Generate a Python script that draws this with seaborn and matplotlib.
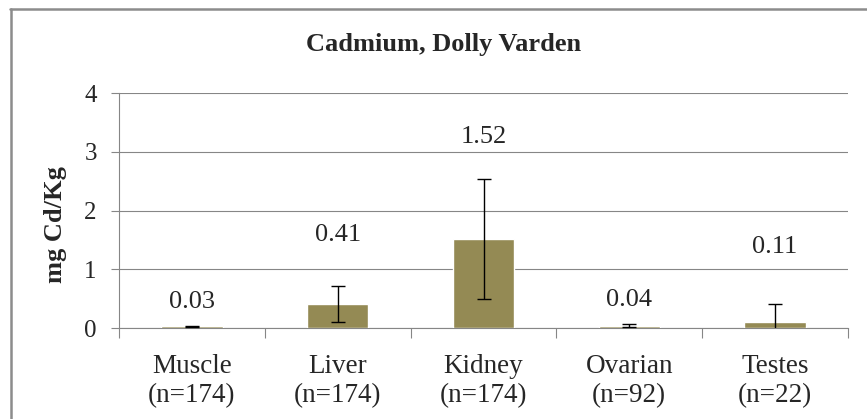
import matplotlib
matplotlib.use("Agg")
import matplotlib.pyplot as plt
import seaborn as sns
import pandas as pd
from matplotlib.lines import Line2D

# ---- data ----
tissues = ["Muscle\n(n=174)", "Liver\n(n=174)", "Kidney\n(n=174)", "Ovarian\n(n=92)", "Testes\n(n=22)"]
means = [0.03, 0.41, 1.52, 0.04, 0.11]
errors = [0.01, 0.30, 1.02, 0.02, 0.30]
value_labels = ["0.03", "0.41", "1.52", "0.04", "0.11"]
label_heights = [0.44, 1.58, 3.25, 0.47, 1.38]
yticks = [0, 1, 2, 3, 4]

sns.set_theme(style="white")
plt.rcParams['font.family'] = ['Liberation Serif', 'DejaVu Serif']

df = pd.DataFrame({"tissue": tissues, "mean": means})

fig = plt.figure(figsize=(8.67, 4.19), dpi=100)
ax = fig.add_axes([119/867, 1-328/419, (848-119)/867, (328-93)/419])

gray = "#868686"
sns.barplot(data=df, x="tissue", y="mean", color="#948A54", saturation=1,
            width=0.42, errorbar=None, ax=ax, zorder=3)
ax.errorbar(range(len(means)), means, yerr=errors, fmt="none", ecolor="black",
            elinewidth=1.0, capsize=4.7, capthick=1.0, zorder=4)

for i, (lab, h) in enumerate(zip(value_labels, label_heights)):
    ax.text(i, h, lab, ha="center", va="center", fontsize=19)

ax.set_ylim(0, 4)
ax.set_xlim(-0.5, len(tissues) - 0.5)
ax.set_yticks(yticks)
ax.set_yticklabels([str(t) for t in yticks], fontsize=18)
ax.yaxis.grid(True, color=gray, linewidth=0.8, zorder=0)
ax.set_axisbelow(True)

ax.set_xlabel("")
ax.set_ylabel("mg Cd/Kg", fontsize=19, fontweight="bold")
ax.yaxis.set_label_coords(-0.072, 0.44)

for s in ["top", "right"]:
    ax.spines[s].set_visible(False)
for s in ["left", "bottom"]:
    ax.spines[s].set_color(gray)
    ax.spines[s].set_linewidth(0.8)

ax.tick_params(axis="x", which="major", length=0, pad=19, labelsize=19.5)
ax.set_xticks([i - 0.5 for i in range(len(tissues) + 1)], minor=True)
ax.tick_params(axis="x", which="minor", length=7.5, width=0.8, color=gray, direction="out", bottom=True)
ax.tick_params(axis="y", which="major", length=6, width=0.8, color=gray, direction="out", left=True, pad=10)
for t in ax.get_xticklabels():
    t.set_linespacing(1.2)

fig.text(444/867, 1-45/419, "Cadmium, Dolly Varden", ha="center", va="center",
         fontsize=19, fontweight="bold")

# chart-area frame (top and left edges visible)
fig.add_artist(Line2D([10/867, 1.0], [1-9/419, 1-9/419], transform=fig.transFigure,
                      color="#8c8c8c", linewidth=1.8))
fig.add_artist(Line2D([11/867, 11/867], [0.0, 1-9/419], transform=fig.transFigure,
                      color="#8c8c8c", linewidth=1.8))

fig.savefig("out.png", dpi=100)
